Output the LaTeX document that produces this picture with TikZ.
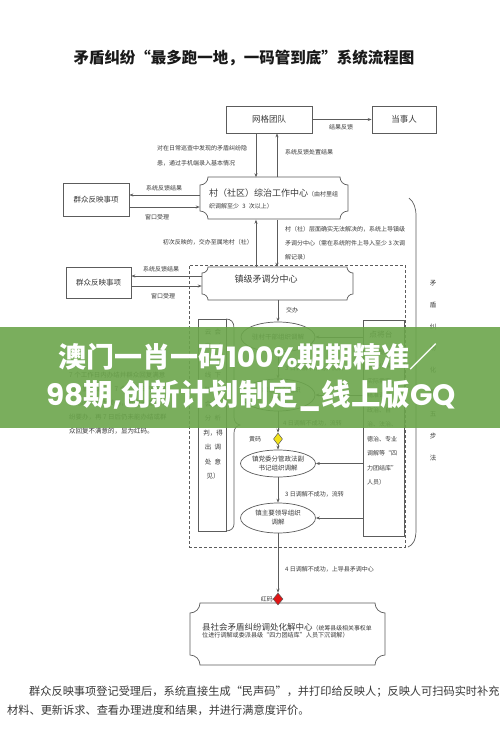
\documentclass[tikz,border=0pt]{standalone}
\usepackage{fontspec}
\setmainfont{Noto Sans CJK SC}
\newfontfamily\popfont{Poppins}
\usetikzlibrary{arrows.meta,shapes.geometric}
\definecolor{linec}{HTML}{5C5C5C}
\definecolor{txtc}{HTML}{3A3A3A}
\definecolor{bannerc}{HTML}{6CA64C}
\definecolor{yel}{HTML}{F2E21A}
\definecolor{redd}{HTML}{E01414}
\newcommand\fs[2]{\fontsize{#1}{#2}\selectfont}
% concave-corner plaque: x1 y1 x2 y2 r
\newcommand\plaquepath[5]{(#1,#2+#5) .. controls (#1+0.552*#5,#2+#5) and (#1+#5,#2+0.552*#5) .. (#1+#5,#2) -- (#3-#5,#2) .. controls (#3-#5,#2+0.552*#5) and (#3-0.552*#5,#2+#5) .. (#3,#2+#5) -- (#3,#4-#5) .. controls (#3-0.552*#5,#4-#5) and (#3-#5,#4-0.552*#5) .. (#3-#5,#4) -- (#1+#5,#4) .. controls (#1+#5,#4-0.552*#5) and (#1+0.552*#5,#4-#5) .. (#1,#4-#5) -- cycle}
\tikzset{
  ln/.style={draw=linec, line width=0.7pt},
  arr/.style={ln, -{Stealth[length=4pt,width=3pt]}},
  box/.style={ln, rectangle, inner sep=0pt, text=txtc},
  hold/.style={rectangle, inner sep=0pt, text=txtc},
  lbl/.style={font=\fs{6}{7.5}, text=txtc, inner sep=0pt},
  ell/.style={ln, ellipse, inner sep=0pt, align=center, font=\fs{6.5}{9}, text=txtc},
  dashbox/.style={draw=linec, line width=0.8pt, dash pattern=on 3pt off 2pt, rectangle, inner sep=0pt},
  dia/.style={diamond, draw=linec, line width=0.5pt, inner sep=0pt, minimum width=9pt, minimum height=12pt},
  bantext/.style={text=white, inner sep=0pt}
}
\begin{document}
\begin{tikzpicture}[x=1pt,y=-1pt]
\useasboundingbox (0,0) rectangle (500,756);
\fill[white] (0,0) rectangle (500,756);

% title
\node[inner sep=0pt, text=black!90, font=\bfseries\fs{15.5}{18}] (title) at (244,58) {矛盾纠纷“最多跑一地，一码管到底”系统流程图};

% top boxes
\node[box, minimum width=86pt, minimum height=27pt, font=\fs{8.5}{10}] (grid) at (269,119.5) {网格团队};
\node[box, minimum width=64pt, minimum height=27pt, font=\fs{8.5}{10}] (party) at (404,119.5) {当事人};
\draw[arr] (grid) -- (party);
\node[lbl] (l1) at (341,127) {结果反馈};

% village centre
\draw[ln] \plaquepath{200}{177}{348}{219}{8};
\node[hold, minimum width=148pt, minimum height=42pt, text width=130pt, align=left] (village) at (274,198.5)
  {{\fs{9}{12}村（社区）综治工作中心}{\fs{6}{12}（由村里组}\\{\fs{6}{7}织调解至少 3 次以上）}};

\coordinate (cx1) at (256,0);
\coordinate (cx2) at (277,0);
\draw[arr] (grid.south -| cx1) -- (village.north -| cx1);
\draw[arr] (village.north -| cx2) -- (grid.south -| cx2);
\node[lbl, anchor=west] (l2a) at (157,148) {对在日常巡查中发现的矛盾纠纷隐};
\node[lbl, anchor=west] (l2b) at (157,163) {患，通过手机端录入基本情况};
\node[lbl, anchor=west] (l3) at (285,152) {系统反馈处置结果};

% left box 1
\node[box, minimum width=66pt, minimum height=33pt, font=\fs{7.5}{9}] (pub1) at (96,199.5) {群众反映事项};
\coordinate (ya1) at (0,195);
\coordinate (ya2) at (0,207);
\draw[arr] (village.west |- ya1) -- (pub1.east |- ya1);
\draw[arr] (pub1.east |- ya2) -- (village.west |- ya2);
\node[lbl] (l4) at (164,188) {系统反馈结果};
\node[lbl] (l5) at (157,217) {窗口受理};

% dashed zone
\node[dashbox, minimum width=216pt, minimum height=282pt] (zone) at (297,406) {};

% town centre
\draw[ln, fill=white] \plaquepath{202}{267}{353}{300}{6};
\node[hold, minimum width=151pt, minimum height=33pt] (town) at (277.5,283.5) {};
\node[lbl, font=\fs{9}{11}] (towntxt) at (266,279) {镇级矛调分中心};
\draw[arr] (town.north -| cx1) -- (village.south -| cx1);
\draw[arr] (village.south -| cx2) -- (town.north -| cx2);
\node[lbl, anchor=east] (l6) at (253,242) {初次反映的，交办至属地村（社）};
\node[lbl, anchor=west] (l7a) at (285,229) {村（社）层面确实无法解决的，系统上导镇级};
\node[lbl, anchor=west] (l7b) at (285,243) {矛调分中心（需在系统附件上导入至少 3 次调};
\node[lbl, anchor=west] (l7c) at (285,257) {解记录）};

% left box 2
\node[box, minimum width=65pt, minimum height=31pt, font=\fs{7.5}{9}] (pub2) at (98.5,282.5) {群众反映事项};
\coordinate (yb1) at (0,276);
\coordinate (yb2) at (0,286);
\draw[arr] (town.west |- yb1) -- (pub2.east |- yb1);
\draw[arr] (pub2.east |- yb2) -- (town.west |- yb2);
\node[lbl] (l8) at (161,269) {系统反馈结果};
\node[lbl] (l9) at (163,296) {窗口受理};

% right bracket and vertical text
\draw[ln] (409,198) .. controls (414,202) and (416,208) .. (416,216) -- (416,530) .. controls (416,540) and (413,545) .. (408,547);
\node[lbl, font=\fs{6.5}{21.9}, align=center] (fivestep) at (433,370.5) {矛\\盾\\纠\\纷\\化\\解\\五\\步\\法};

% ellipses
\node[ell, minimum width=74pt, minimum height=30pt] (e1) at (278,337) {驻村干部组织调解};
\node[ell, minimum width=74pt, minimum height=32pt] (e2) at (278,395) {镇综治中心组织\\调解};
\node[ell, minimum width=75pt, minimum height=27pt] (e3) at (278,463.5) {镇党委分管政法副\\书记组织调解};
\node[ell, minimum width=75pt, minimum height=30pt] (e4) at (278,518) {镇主要领导组织\\调解};
\node[dia, fill=yel] (yd) at (278,439) {};

\draw[arr] (town.south -| e1) -- (e1.north);
\node[lbl, anchor=west] (l10) at (286,310) {交办};
\draw[arr] (e1.south) -- (e2.north);
\node[lbl, anchor=west] (l11) at (285,368) {3 日调解不成功，流转};
\draw[arr] (e2.south) -- (yd.north);
\node[lbl, anchor=west] (l12) at (283,423) {4 日调解不成功，流转};
\node[lbl] (l13) at (255,439) {黄码};
\draw[arr] (yd.south) -- (e3.north);
\draw[arr] (e3.south) -- (e4.north);
\node[lbl, anchor=west] (l14) at (285,494) {3 日调解不成功，流转};

% left tall box with brace
\node[box, minimum width=28pt, minimum height=212pt] (lbox) at (212,425) {};
\draw[ln] (226,319) .. controls (231,319) and (234,322) .. (234,328) -- (234,417) .. controls (234,421) and (236,424) .. (240,425) .. controls (236,426) and (234,429) .. (234,433) -- (234,524) .. controls (234,528) and (231,531) .. (226,531);
\node[lbl, font=\fs{6.5}{14.4}, align=center] (ltxt) at (213,404)
  {云\hspace{3.5pt}会\\商\hspace{3.5pt}（\\线\hspace{3.5pt}上\\线\hspace{3.5pt}下\\联\hspace{3.5pt}动\\会\hspace{3.5pt}商\\分\hspace{3.5pt}析\\判，得\\出\hspace{3.5pt}调\\处\hspace{3.5pt}意\\见）};

% right tall box
\node[box, minimum width=41pt, minimum height=216pt] (rbox) at (383.5,428) {};
\node[lbl, font=\fs{7.7}{9}] (rtitle) at (381,335) {点将台};
\node[lbl, font=\fs{6}{14.5}, align=left, anchor=north west] (rtxt) at (367,349)
  {（根据矛盾\\纠纷化解\\实际需要，\\精准调派\\政治、自\\治、法治、\\德治、专业\\调解等“四\\力团结库”\\人员）};
\draw[arr] (rbox.west |- e1) -- (e1.east);
\draw[arr] (rbox.west |- e2) -- (e2.east);
\draw[arr] (rbox.west |- e3) -- (e3.east);
\draw[arr] (rbox.west |- e4) -- (e4.east);

% left explanatory text
\node[lbl, font=\fs{6.5}{14}, align=left, anchor=north west] (codes) at (69,372)
  {7 个工作日内办结并群众回复满意\\的，显为绿码；7 个工作日内未能\\办结的，显为黄码，黄码矛盾纠\\纷要办，再 7 日后仍未能办结或群\\众回复不满意的，显为红码。};

% county
\draw[ln] \plaquepath{190}{603}{385}{665}{10};
\node[hold, minimum width=195pt, minimum height=62pt] (county) at (287.5,634) {};
\node[dia, fill=redd, minimum width=10pt, minimum height=12pt] (rd) at (278,599) {};
\draw[arr] (e4.south) -- (rd.north);
\node[lbl, anchor=west] (l15) at (285,569) {4 日调解不成功，上导县矛调中心};
\node[lbl, anchor=east] (l16) at (273,599) {红码};
\node[lbl, anchor=west, align=left] (ctxt) at (202,630.5)
  {{\fs{8.5}{15}县社会矛盾纠纷调处化解中心}{\fs{5.9}{15}（统筹县级相关事权单}\\{\fs{6.1}{7}位进行调解或委派县级“四力团结库”人员下沉调解）}};

% bottom paragraph
\node[inner sep=0pt, anchor=west, text=txtc, font=\fs{11.2}{13}] (p1) at (29,692) {群众反映事项登记受理后，系统直接生成“民声码”，并打印给反映人；反映人可扫码实时补充};
\node[inner sep=0pt, anchor=west, text=txtc, font=\fs{11.2}{13}] (p2) at (7,710) {材料、更新诉求、查看办理进度和结果，并进行满意度评价。};

% overlay banner
\fill[bannerc, opacity=0.9] (0,327) rectangle (500,428);
\node[bantext, font=\bfseries\fs{28}{30}] (b1) at (248,357) {澳门一肖一码{\popfont 100\%}期期精准／};
\node[bantext, font=\bfseries\fs{29.5}{31}] (b2) at (251,396) {{\popfont 98}期{\popfont ,}创新计划制定{\popfont \_}线上版{\popfont GQ}};
\end{tikzpicture}
\end{document}
